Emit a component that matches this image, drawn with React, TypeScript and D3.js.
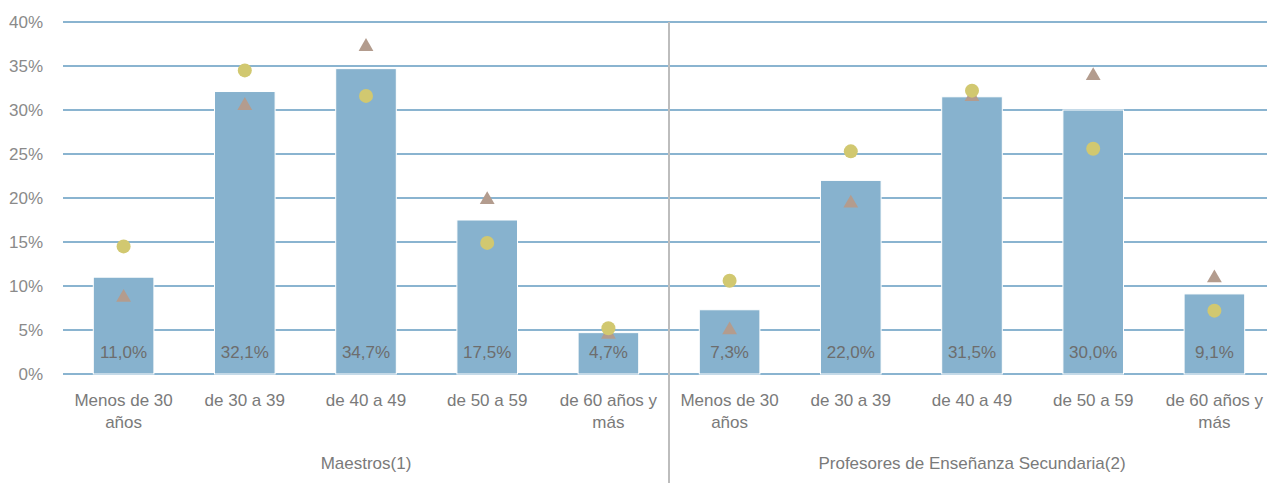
import React, { useEffect, useRef } from 'react';
import * as d3 from 'd3';

const groups = ['Maestros(1)', 'Profesores de Enseñanza Secundaria(2)'];
const ageLabels = [['Menos de 30', 'años'], ['de 30 a 39'], ['de 40 a 49'], ['de 50 a 59'], ['de 60 años y', 'más']];
const barValues = [11.0, 32.1, 34.7, 17.5, 4.7, 7.3, 22.0, 31.5, 30.0, 9.1];
const circleValues = [14.5, 34.5, 31.6, 14.9, 5.2, 10.6, 25.3, 32.2, 25.6, 7.2];
const triangleValues = [8.7, 30.5, 37.2, 19.8, 4.5, 5.0, 19.4, 31.5, 33.9, 10.9];
const yTicks = [0, 5, 10, 15, 20, 25, 30, 35, 40];

const font = '"Liberation Sans Narrow", "Liberation Sans", Arial, sans-serif';

const App: React.FC = () => {
  const svgRef = useRef<SVGSVGElement>(null);

  useEffect(() => {
    if (!svgRef.current) return;
    d3.select(svgRef.current).selectAll('*').remove();

    const width = 1275;
    const height = 491;
    const left = 63;
    const right = 1275;

    const svg = d3.select(svgRef.current)
      .attr('width', width)
      .attr('height', height)
      .style('display', 'block')
      .style('font-family', font);

    const keys = barValues.map((_, i) => i);
    const x = d3.scaleBand<number>().domain(keys).range([left, right]).paddingInner(0.5).paddingOuter(0.25);
    const y = d3.scaleLinear().domain([0, 40]).range([374, 22]);
    const step = x.step();

    // gridlines
    svg.append('g')
      .selectAll('line')
      .data(yTicks)
      .enter()
      .append('line')
      .attr('x1', left)
      .attr('x2', right)
      .attr('y1', d => y(d))
      .attr('y2', d => y(d))
      .attr('stroke', '#8ab4d0')
      .attr('stroke-width', 2);

    // y labels
    svg.append('g')
      .selectAll('text')
      .data(yTicks)
      .enter()
      .append('text')
      .attr('x', 43)
      .attr('y', d => y(d))
      .attr('dy', '0.35em')
      .attr('text-anchor', 'end')
      .attr('font-size', 17)
      .attr('fill', '#8a8a8a')
      .text(d => `${d}%`);

    // divider
    svg.append('line')
      .attr('x1', left + step * 5)
      .attr('x2', left + step * 5)
      .attr('y1', 22)
      .attr('y2', height)
      .attr('stroke', '#bdbdbd')
      .attr('stroke-width', 2);

    // bars
    svg.append('g')
      .selectAll('rect')
      .data(barValues)
      .enter()
      .append('rect')
      .attr('x', (_, i) => x(i)!)
      .attr('width', x.bandwidth())
      .attr('y', d => y(d))
      .attr('height', d => y(0) - y(d))
      .attr('fill', '#87b2ce')
      .attr('stroke', '#ffffff')
      .attr('stroke-width', 1);

    // bar labels
    svg.append('g')
      .selectAll('text')
      .data(barValues)
      .enter()
      .append('text')
      .attr('x', (_, i) => x(i)! + x.bandwidth() / 2)
      .attr('y', 352)
      .attr('dy', '0.35em')
      .attr('text-anchor', 'middle')
      .attr('font-size', 17)
      .attr('fill', '#6d6d6d')
      .text(d => d.toFixed(1).replace('.', ',') + '%');

    // triangles
    const tri = d3.symbol().type(d3.symbolTriangle).size(95);
    svg.append('g')
      .selectAll('path')
      .data(triangleValues)
      .enter()
      .append('path')
      .attr('d', tri)
      .attr('transform', (d, i) => `translate(${x(i)! + x.bandwidth() / 2},${y(d)})`)
      .attr('fill', '#b39c8e');

    // circles
    svg.append('g')
      .selectAll('circle')
      .data(circleValues)
      .enter()
      .append('circle')
      .attr('cx', (_, i) => x(i)! + x.bandwidth() / 2)
      .attr('cy', d => y(d))
      .attr('r', 7)
      .attr('fill', '#d1c870');

    // category labels
    const cat = svg.append('g')
      .selectAll('text')
      .data(keys)
      .enter()
      .append('text')
      .attr('x', i => x(i)! + x.bandwidth() / 2)
      .attr('y', 400)
      .attr('text-anchor', 'middle')
      .attr('font-size', 17)
      .attr('fill', '#7a7a7a');
    cat.each(function (i) {
      const lines = ageLabels[i % 5];
      d3.select(this)
        .selectAll('tspan')
        .data(lines)
        .enter()
        .append('tspan')
        .attr('x', x(i)! + x.bandwidth() / 2)
        .attr('dy', (_, j) => (j === 0 ? '0.35em' : '1.3em'))
        .text(t => t);
    });

    // group labels
    svg.append('g')
      .selectAll('text')
      .data(groups)
      .enter()
      .append('text')
      .attr('x', (_, g) => left + step * 5 * g + step * 2.5)
      .attr('y', 463)
      .attr('dy', '0.35em')
      .attr('text-anchor', 'middle')
      .attr('font-size', 17)
      .attr('fill', '#7a7a7a')
      .text(d => d);
  }, []);

  return (
    <div style={{ margin: -8 }}>
      <svg ref={svgRef}></svg>
    </div>
  );
};

export default App;
